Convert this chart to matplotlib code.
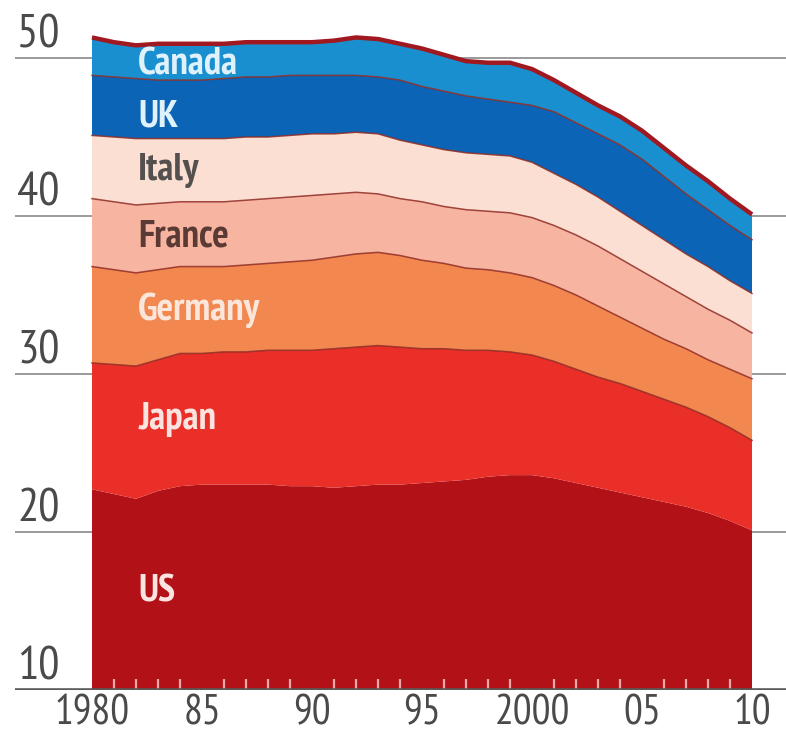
import numpy as np
import matplotlib
matplotlib.use("Agg")
import matplotlib.pyplot as plt
from matplotlib import font_manager as fm

# G7 shares, stacked from the bottom up (per cent)
years = list(range(1980, 2011))
us = [22.7, 22.4, 22.1, 22.6, 22.9, 23.0, 23.0, 23.0, 23.0, 22.9, 22.9, 22.8, 22.9, 23.0, 23.0, 23.1,
      23.2, 23.3, 23.5, 23.6, 23.6, 23.4, 23.1, 22.8, 22.5, 22.2, 21.9, 21.6, 21.2, 20.7, 20.1]
japan = [8.0, 8.2, 8.4, 8.3, 8.4, 8.3, 8.4, 8.4, 8.5, 8.6, 8.6, 8.8, 8.8, 8.8, 8.7, 8.5,
         8.4, 8.2, 8.0, 7.8, 7.6, 7.4, 7.2, 7.0, 6.9, 6.7, 6.5, 6.3, 6.1, 5.9, 5.7]
germany = [6.1, 6.0, 5.9, 5.7, 5.5, 5.5, 5.4, 5.5, 5.5, 5.6, 5.7, 5.8, 5.9, 5.9, 5.8, 5.6,
           5.4, 5.2, 5.1, 5.0, 4.9, 4.8, 4.7, 4.5, 4.2, 4.0, 3.8, 3.7, 3.6, 3.7, 3.9]
france = [4.3, 4.3, 4.3, 4.2, 4.1, 4.1, 4.1, 4.1, 4.1, 4.1, 4.1, 4.0, 3.9, 3.7, 3.6, 3.7,
          3.6, 3.7, 3.7, 3.8, 3.8, 3.8, 3.8, 3.8, 3.7, 3.6, 3.5, 3.3, 3.2, 3.1, 2.9]
italy = [4.0, 4.1, 4.2, 4.1, 4.0, 4.0, 4.0, 4.0, 3.9, 3.9, 3.9, 3.8, 3.8, 3.8, 3.7, 3.6,
         3.6, 3.6, 3.6, 3.6, 3.5, 3.3, 3.2, 3.1, 3.0, 2.9, 2.8, 2.7, 2.7, 2.5, 2.5]
uk = [3.8, 3.8, 3.8, 3.7, 3.7, 3.7, 3.8, 3.8, 3.8, 3.8, 3.7, 3.7, 3.6, 3.6, 3.8, 3.7,
      3.7, 3.6, 3.5, 3.4, 3.6, 3.9, 3.9, 4.0, 4.2, 4.2, 4.0, 3.8, 3.6, 3.5, 3.4]
canada = [2.4, 2.2, 2.1, 2.3, 2.3, 2.3, 2.2, 2.2, 2.2, 2.1, 2.1, 2.2, 2.4, 2.4, 2.3, 2.4,
          2.3, 2.2, 2.3, 2.5, 2.3, 2.0, 1.9, 1.8, 1.8, 1.8, 1.8, 1.8, 1.8, 1.7, 1.6]

countries = ["US", "Japan", "Germany", "France", "Italy", "UK", "Canada"]
y_ticks = [10, 20, 30, 40, 50]
x_ticks = [1980, 1985, 1990, 1995, 2000, 2005, 2010]
x_tick_labels = ["1980", "85", "90", "95", "2000", "05", "10"]

colors = ["#b11117", "#ea2f29", "#f2874f", "#f7b4a0", "#fcdfd3", "#0b64b5", "#1a8fd0"]
# label placement: (x in years, baseline y, text colour)
label_style = {
    "US": (1982.1, 15.6, "#fbe3e0"),
    "Japan": (1982.1, 26.5, "#fbe3e0"),
    "Germany": (1982.1, 33.4, "#fbe6dc"),
    "France": (1982.1, 38.05, "#5a3a35"),
    "Italy": (1982.1, 42.3, "#555050"),
    "UK": (1982.1, 45.65, "#dff1fb"),
    "Canada": (1982.1, 48.95, "#dff1fb"),
}

# pick a narrow face, the chart uses a condensed sans
installed = {f.name for f in fm.fontManager.ttflist}
narrow = [n for n in ["PT Sans Narrow", "Roboto Condensed", "Archivo Narrow",
                      "Sofia Sans Condensed"] if n in installed]
plt.rcParams["font.family"] = narrow[:1] + ["DejaVu Sans"]

W, H = 786, 741
px_per_unit = 15.8
px_per_year = 22.0

fig = plt.figure(figsize=(W / 100, H / 100), dpi=100)
ax = fig.add_axes([15 / W, 51 / H, 771 / W, 690 / H])
ax.set_xlim(1980 - 77 / px_per_year, 2010 + 34 / px_per_year)
ax.set_ylim(10, 10 + 690 / px_per_unit)

# gridlines behind the areas, labels sit on top of them at the left
for v in y_ticks:
    if v > y_ticks[0]:
        ax.axhline(v, color="#9a9a9a", lw=1.4, zorder=0.5)
    ax.text(1976.6, v + 0.66, str(v), ha="left", va="baseline",
            fontsize=34, color="#4a4a4a")

series = [us, japan, germany, france, italy, uk, canada]
ax.stackplot(years, *series, colors=colors, lw=0, zorder=1)

tops = np.cumsum(np.array(series), axis=0)
for i in range(1, len(series) - 1):
    ax.plot(years, tops[i], color="#8e2a22", lw=1.1, alpha=0.85, zorder=2)
ax.plot(years, tops[-1], color="#a01820", lw=3.2, zorder=2.2, solid_capstyle="butt")

for name in countries:
    x, y, c = label_style[name]
    ax.text(x, y, name, ha="left", va="baseline", fontsize=28, fontweight="bold",
            color=c, zorder=3)

# baseline and axis styling
ax.axhline(10, color="#5a5a5a", lw=2.6, zorder=3)
for s in ax.spines.values():
    s.set_visible(False)
ax.set_yticks([])
ax.set_xticks(x_ticks)
ax.set_xticklabels(x_tick_labels, fontsize=30, color="#4a4a4a")
ax.tick_params(axis="x", which="major", length=0, pad=3)
ax.set_xticks(years[1:-1], minor=True)
ax.tick_params(axis="x", which="minor", direction="in", length=8, width=1.6,
               color="#eea8a8")

fig.savefig("out.png", dpi=100)
